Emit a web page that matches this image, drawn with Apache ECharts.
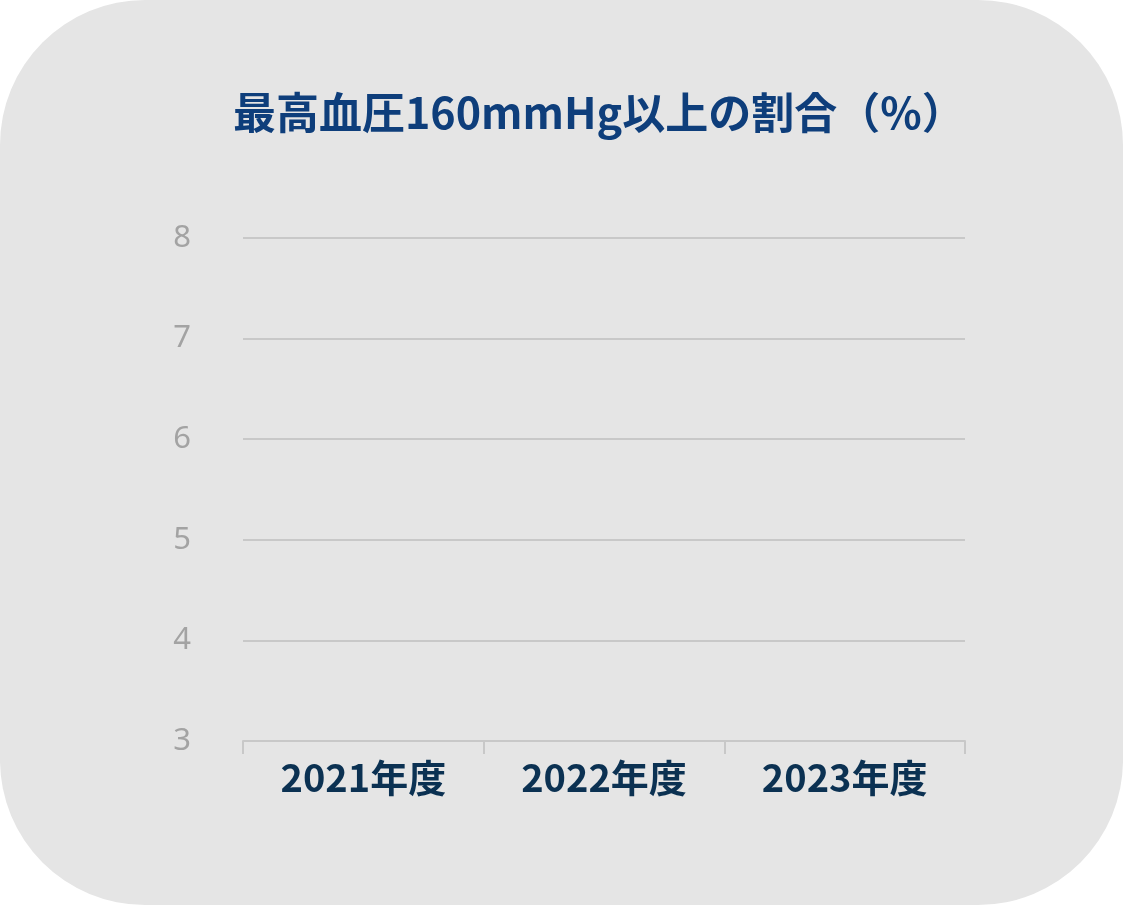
<!DOCTYPE html>
<html lang="ja">
<head>
    <meta charset="utf-8">
    <script type="text/javascript" src="https://cdn.jsdelivr.net/npm/echarts@6/dist/echarts.min.js"></script>
</head>
<body style="margin: 0; background: #ffffff">
<div id="container" style="width:1123px;height:905px;background:#e5e5e5;border-radius:145px"></div>

<script type="text/javascript">
    // 年度
    var categories = ['2021年度', '2022年度', '2023年度'];
    // 割合（%）: 元の図には値が描かれていない
    var values = [null, null, null];
    // 縦軸の目盛
    var yMin = 3, yMax = 8, yStep = 1;

    var dom = document.getElementById('container');
    var myChart = echarts.init(dom, null, {renderer: 'canvas'});

    var option = {
        backgroundColor: 'transparent',
        title: {
            text: '最高血圧160mmHg以上の割合（%）',
            left: 228,
            top: 86,
            textStyle: {
                fontFamily: 'Noto Sans CJK JP',
                fontSize: 43,
                fontWeight: 'bold',
                color: '#0e3e7b'
            }
        },
        grid: {
            left: 243,
            right: 158,
            top: 238,
            bottom: 164
        },
        xAxis: {
            type: 'category',
            data: categories,
            axisLine: {lineStyle: {color: '#c8c8c8', width: 2}},
            axisTick: {show: true, length: 13, lineStyle: {color: '#c8c8c8', width: 2}},
            axisLabel: {
                margin: 18,
                fontFamily: 'Noto Sans CJK JP',
                fontSize: 38,
                fontWeight: 'bold',
                color: '#0b3152'
            }
        },
        yAxis: {
            type: 'value',
            min: yMin,
            max: yMax,
            interval: yStep,
            axisLine: {show: false},
            axisTick: {show: false},
            splitLine: {lineStyle: {color: '#c8c8c8', width: 2}},
            axisLabel: {
                margin: 52,
                fontFamily: 'Noto Sans',
                fontSize: 31,
                color: '#a3a3a3'
            }
        },
        series: [{
            type: 'line',
            data: values,
            symbol: 'none',
            lineStyle: {color: '#0e3e7b'}
        }]
    };

    myChart.setOption(option);
</script>
</body>
</html>
